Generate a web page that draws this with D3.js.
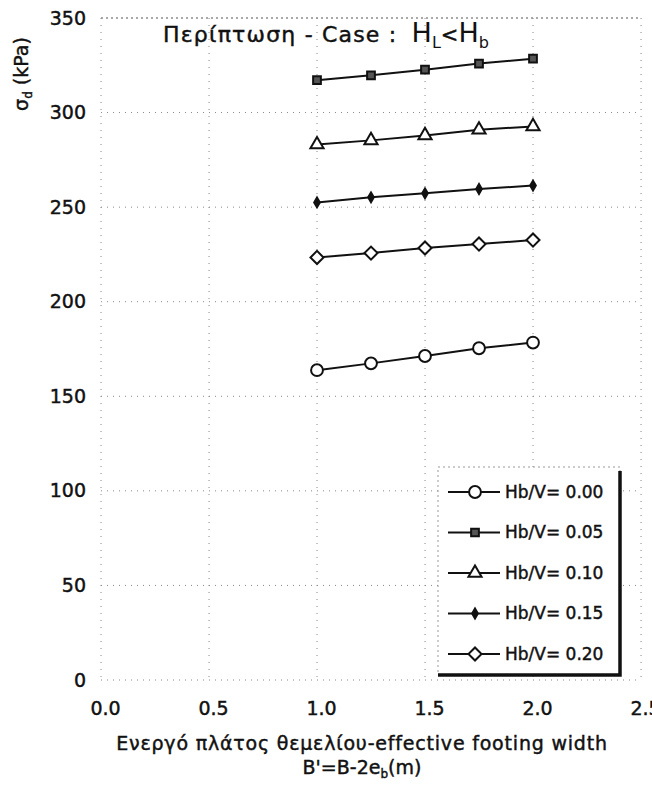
<!DOCTYPE html>
<html>
<head>
<meta charset="utf-8">
<script src="https://cdn.jsdelivr.net/npm/d3@7"></script>
<style>
    body { margin: 0; background: #fff; }
    text { font-family: "DejaVu Sans", sans-serif; fill: #111; stroke: #111; stroke-width: 0.45px; }
</style>
</head>
<body>
<div id="chart"></div>
<script>
// data
let widths = [1.0, 1.25, 1.5, 1.75, 2.0];
let hbv000 = [163.8, 167.4, 171.3, 175.4, 178.4];
let hbv005 = [317.1, 319.7, 322.7, 325.9, 328.5];
let hbv010 = [283.1, 285.3, 287.9, 290.9, 292.7];
let hbv015 = [252.5, 255.2, 257.3, 259.6, 261.4];
let hbv020 = [223.4, 225.7, 228.4, 230.5, 232.6];
let seriesNames = ["Hb/V= 0.00", "Hb/V= 0.05", "Hb/V= 0.10", "Hb/V= 0.15", "Hb/V= 0.20"];
let xTicks = [0.0, 0.5, 1.0, 1.5, 2.0, 2.5];
let yTicks = [0, 50, 100, 150, 200, 250, 300, 350];

let series = [hbv000, hbv005, hbv010, hbv015, hbv020].map((vals, i) => ({
    name: seriesNames[i],
    values: vals.map((v, j) => ({x: widths[j], y: v}))
}));

// marker styles per series
let markers = [
    {type: d3.symbolCircle, size: 110, fill: "#fff", rot: 0},
    {type: d3.symbolSquare, size: 60, fill: "#555", rot: 0},
    {type: d3.symbolTriangle, size: 75, fill: "#fff", rot: 0},
    {type: d3.symbolDiamond, size: 28, fill: "#111", rot: 0},
    {type: d3.symbolSquare, size: 85, fill: "#fff", rot: 45}
];

let margin = {top: 18, right: 11, bottom: 108, left: 101};
let width = 652 - margin.left - margin.right;
let height = 788 - margin.top - margin.bottom;

let svg = d3.select("#chart").append("svg")
    .attr("width", 652)
    .attr("height", 788)
    .append("g")
    .attr("transform", "translate(" + margin.left + "," + margin.top + ")");

let x = d3.scaleLinear().domain([0, 2.5]).range([0, width]);
let y = d3.scaleLinear().domain([0, 350]).range([height, 0]);

// dotted grid
svg.append("g").selectAll("line.h")
    .data(yTicks)
    .enter().append("line")
    .attr("x1", 0).attr("x2", width)
    .attr("y1", d => y(d)).attr("y2", d => y(d))
    .attr("stroke", d => d === 350 ? "#555" : "#888")
    .attr("stroke-width", 1)
    .style("stroke-dasharray", d => d === 350 ? "2,3" : "1,5");

svg.append("g").selectAll("line.v")
    .data(xTicks)
    .enter().append("line")
    .attr("y1", 0).attr("y2", height)
    .attr("x1", d => x(d)).attr("x2", d => x(d))
    .attr("stroke", "#888")
    .attr("stroke-width", 1)
    .style("stroke-dasharray", "1,6");

// axes (labels only)
let yAxis = svg.append("g")
    .call(d3.axisLeft(y).tickValues(yTicks).tickFormat(d3.format("d")).tickSize(0).tickPadding(15));
let xAxis = svg.append("g")
    .attr("transform", "translate(0," + height + ")")
    .call(d3.axisBottom(x).tickValues(xTicks).tickFormat(d3.format(".1f")).tickSize(0).tickPadding(22));
[yAxis, xAxis].forEach(a => {
    a.select(".domain").remove();
    a.selectAll("text")
        .style("font-family", "DejaVu Sans")
        .style("font-size", "19px")
        .attr("fill", "#111");
});
xAxis.selectAll("text").attr("dx", 4);

// lines and markers
let line = d3.line().x(d => x(d.x)).y(d => y(d.y));

series.forEach((s, i) => {
    let g = svg.append("g").attr("class", "series");
    g.append("path")
        .datum(s.values)
        .attr("d", line)
        .attr("fill", "none")
        .attr("stroke", "#111")
        .attr("stroke-width", 2);
    g.selectAll("path.marker")
        .data(s.values)
        .enter().append("path")
        .attr("class", "marker")
        .attr("d", d3.symbol().type(markers[i].type).size(markers[i].size))
        .attr("transform", d => "translate(" + x(d.x) + "," + y(d.y) + ") rotate(" + markers[i].rot + ")")
        .attr("fill", markers[i].fill)
        .attr("stroke", "#111")
        .attr("stroke-width", 2);
});

// title
let title = svg.append("text")
    .attr("x", 163 - margin.left)
    .attr("y", 42 - margin.top)
    .style("font-size", "22px");
title.append("tspan").style("letter-spacing", "1.2px").text("Περίπτωση - Case : ");
title.append("tspan").attr("dx", 6).style("font-size", "27px").style("stroke-width", "0").text("H");
title.append("tspan").attr("dy", 6).style("font-size", "16px").style("stroke-width", "0").text("L");
title.append("tspan").attr("dy", -6).style("font-size", "21px").text("<");
title.append("tspan").style("font-size", "27px").style("stroke-width", "0").text("H");
title.append("tspan").attr("dy", 6).style("font-size", "16px").style("stroke-width", "0").text("b");

// axis titles
let yt = svg.append("text")
    .attr("transform", "translate(" + (28 - margin.left) + "," + (74 - margin.top) + ") rotate(-90)")
    .attr("text-anchor", "middle")
    .style("font-size", "19px");
yt.append("tspan").text("σ");
yt.append("tspan").attr("dy", 4).style("font-size", "12px").text("d");
yt.append("tspan").attr("dy", -4).text(" (kPa)");

svg.append("text")
    .attr("x", 362 - margin.left)
    .attr("y", 750 - margin.top)
    .attr("text-anchor", "middle")
    .style("font-size", "19px")
    .style("letter-spacing", "0.8px")
    .text("Ενεργό πλάτος θεμελίου-effective footing width");

let xt2 = svg.append("text")
    .attr("x", 362 - margin.left)
    .attr("y", 774 - margin.top)
    .attr("text-anchor", "middle")
    .style("font-size", "19px");
xt2.append("tspan").text("B'=B-2e");
xt2.append("tspan").attr("dy", 4).style("font-size", "12px").text("b");
xt2.append("tspan").attr("dy", -4).text("(m)");

// legend
let lg = svg.append("g").attr("transform", "translate(" + (438 - margin.left) + "," + (467 - margin.top) + ")");
let lgW = 182, lgH = 208;
lg.append("rect")
    .attr("width", lgW).attr("height", lgH)
    .attr("fill", "#fff")
    .attr("stroke", "#999").attr("stroke-width", 1)
    .style("stroke-dasharray", "2,3");
lg.append("path")
    .attr("d", "M" + lgW + ",4 V" + lgH + " H0")
    .attr("fill", "none")
    .attr("stroke", "#111")
    .attr("stroke-width", 3.5);

let entry = lg.selectAll("g.entry")
    .data(series)
    .enter().append("g")
    .attr("class", "entry")
    .attr("transform", (d, i) => "translate(0," + (25 + i * 40.5) + ")");
entry.append("line")
    .attr("x1", 10).attr("x2", 62)
    .attr("stroke", "#111").attr("stroke-width", 2);
entry.append("path")
    .attr("d", (d, i) => d3.symbol().type(markers[i].type).size(markers[i].size)())
    .attr("transform", (d, i) => "translate(37,0) rotate(" + markers[i].rot + ")")
    .attr("fill", (d, i) => markers[i].fill)
    .attr("stroke", "#111")
    .attr("stroke-width", 2);
entry.append("text")
    .attr("x", 67)
    .attr("dy", "0.35em")
    .style("font-size", "17px")
    .text(d => d.name);
</script>
</body>
</html>
